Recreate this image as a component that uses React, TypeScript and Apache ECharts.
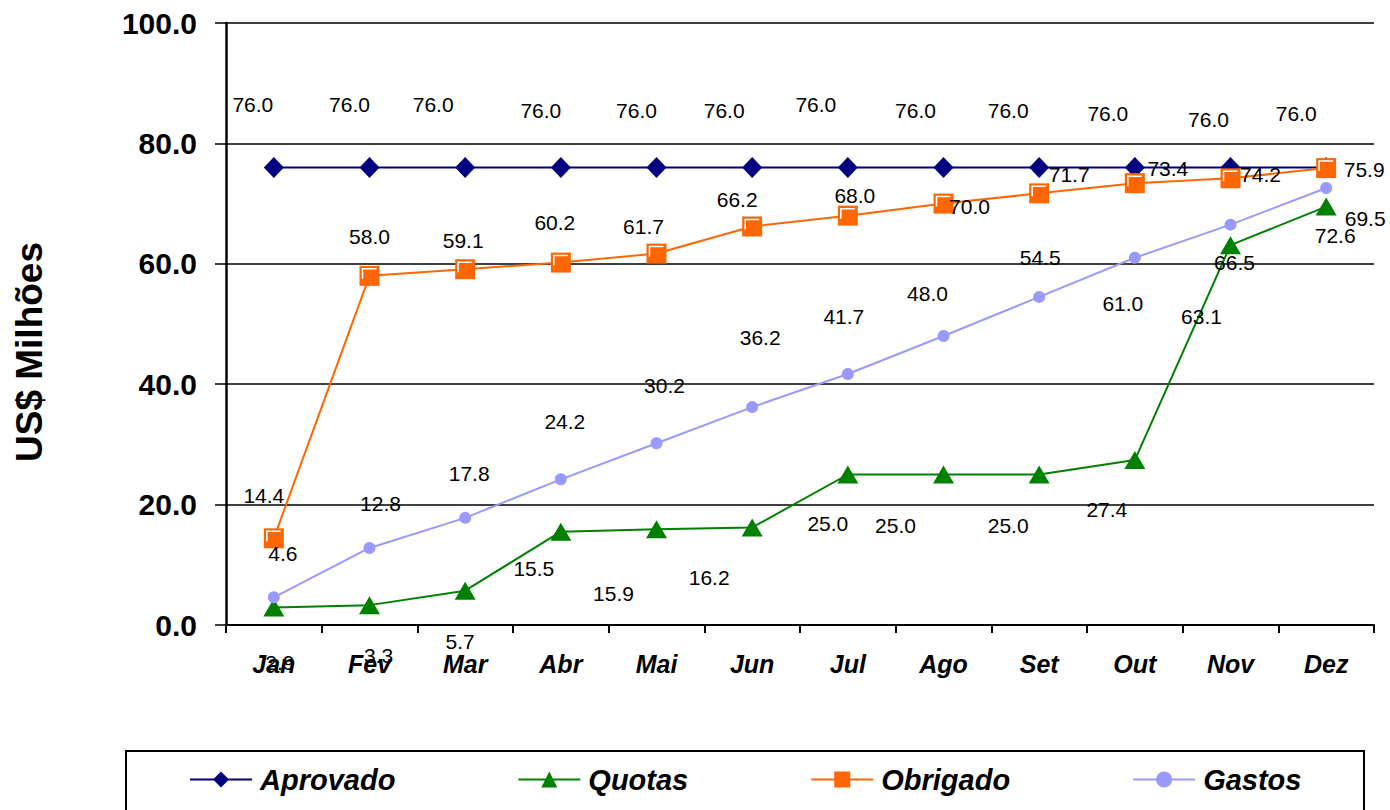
import React, { useEffect, useRef } from "react";
import * as echarts from "echarts";

const months = ["Jan", "Fev", "Mar", "Abr", "Mai", "Jun", "Jul", "Ago", "Set", "Out", "Nov", "Dez"];
const aprovado = [76.0, 76.0, 76.0, 76.0, 76.0, 76.0, 76.0, 76.0, 76.0, 76.0, 76.0, 76.0];
const quotas = [2.9, 3.3, 5.7, 15.5, 15.9, 16.2, 25.0, 25.0, 25.0, 27.4, 63.1, 69.5];
const obrigado = [14.4, 58.0, 59.1, 60.2, 61.7, 66.2, 68.0, 70.0, 71.7, 73.4, 74.2, 75.9];
const gastos = [4.6, 12.8, 17.8, 24.2, 30.2, 36.2, 41.7, 48.0, 54.5, 61.0, 66.5, 72.6];
const yMin = 0;
const yMax = 100;
const yStep = 20;
const yTitle = "US$ Milhões";

// label placement (style), offsets of each data label from its point, in px
const aprovadoLabelOffsets = [
  [-21, -63], [-20, -63], [-32, -63], [-20, -57], [-20, -57], [-28, -57],
  [-32, -63], [-28, -57], [-31, -57], [-27, -54], [-22, -48], [-30, -54],
];
const quotasLabelOffsets = [
  [6, 55], [9, 50], [-5, 51], [-27, 37], [-43, 64], [-43, 50],
  [-20, 49], [-48, 51], [-31, 51], [-28, 49], [-29, 71], [39, 12],
];
const obrigadoLabelOffsets = [
  [-10, -43], [0, -39], [-2, -29], [-6, -40], [-13, -27], [-15, -27],
  [7, -20], [26, 3], [30, -19], [33, -15], [30, -4], [38, 1],
];
const gastosLabelOffsets = [
  [9, -44], [11, -44], [4, -44], [4, -58], [8, -58], [8, -70],
  [-4, -57], [-16, -43], [1, -39], [-12, 46], [4, 38], [9, 48],
];

const FONT = "'Liberation Sans', Arial, Helvetica, sans-serif";

function withLabels(values: number[], offsets: number[][]) {
  return values.map((v, i) => ({ value: v, label: { offset: offsets[i] } }));
}

const labelBase = {
  show: true,
  position: "inside",
  align: "center",
  verticalAlign: "middle",
  color: "#000",
  fontFamily: FONT,
  fontSize: 21,
  formatter: (p: any) => Number(p.value).toFixed(1),
};

export default function App() {
  const ref = useRef<HTMLDivElement>(null);

  useEffect(() => {
    if (!ref.current) return;
    const chart = echarts.init(ref.current, undefined, { renderer: "svg" });
    chart.setOption({
      animation: false,
      backgroundColor: "#fff",
      grid: { left: 226, right: 16, top: 23, bottom: 185, containLabel: false },
      legend: {
        data: ["Aprovado", "Quotas", "Obrigado", "Gastos"],
        left: 189,
        top: 765,
        padding: 0,
        itemWidth: 62,
        itemHeight: 20,
        itemGap: 122,
        textStyle: {
          fontFamily: FONT,
          fontSize: 29,
          fontWeight: "bold",
          fontStyle: "italic",
          color: "#000",
          padding: [0, 0, 0, 3],
        },
      },
      graphic: [
        {
          type: "rect",
          shape: { x: 126, y: 751, width: 1238, height: 80 },
          style: { fill: "none", stroke: "#000", lineWidth: 2 },
          z: -1,
        },
        {
          type: "text",
          x: 29,
          y: 352,
          rotation: Math.PI / 2,
          style: {
            text: yTitle,
            fill: "#000",
            font: `bold 37px ${FONT}`,
            align: "center",
            verticalAlign: "middle",
          },
        },
      ],
      xAxis: {
        type: "category",
        data: months,
        boundaryGap: true,
        axisLine: { show: true, lineStyle: { color: "#000", width: 2 } },
        axisTick: { show: true, inside: false, length: 8, alignWithLabel: false, lineStyle: { color: "#000", width: 2 } },
        axisLabel: {
          margin: 26,
          fontFamily: FONT,
          fontSize: 25,
          fontWeight: "bold",
          fontStyle: "italic",
          color: "#000",
          interval: 0,
        },
        splitLine: { show: false },
      },
      yAxis: {
        type: "value",
        min: yMin,
        max: yMax,
        interval: yStep,
        axisLine: { show: true, lineStyle: { color: "#000", width: 2.5 } },
        axisTick: { show: true, inside: false, length: 11, lineStyle: { color: "#000", width: 1.5 } },
        axisLabel: {
          margin: 29,
          fontFamily: FONT,
          fontSize: 30,
          fontWeight: "bold",
          color: "#000",
          formatter: (v: number) => v.toFixed(1),
        },
        splitLine: { show: true, lineStyle: { color: "#000", width: 1.5 } },
      },
      series: [
        {
          name: "Aprovado",
          type: "line",
          data: withLabels(aprovado, aprovadoLabelOffsets),
          symbol: "diamond",
          symbolSize: [20, 21],
          lineStyle: { color: "#000080", width: 2 },
          itemStyle: { color: "#000080" },
          label: labelBase,
          z: 2,
        },
        {
          name: "Quotas",
          type: "line",
          data: withLabels(quotas, quotasLabelOffsets),
          symbol: "triangle",
          symbolSize: [21, 18],
          lineStyle: { color: "#008000", width: 2 },
          itemStyle: { color: "#008000" },
          label: labelBase,
          z: 3,
        },
        {
          name: "Obrigado",
          type: "line",
          data: withLabels(obrigado, obrigadoLabelOffsets),
          symbol: "rect",
          symbolSize: 20,
          lineStyle: { color: "#FF6600", width: 2 },
          itemStyle: { color: "#FF6600" },
          label: labelBase,
          z: 4,
        },
        {
          name: "Obrigado-highlight",
          type: "line",
          data: obrigado,
          symbol: "path://M0,0M20,20M3,13L3,3L17,3",
          symbolSize: 20,
          lineStyle: { width: 0, opacity: 0 },
          itemStyle: { color: "transparent", borderColor: "#ffffff", borderWidth: 1.5 },
          label: { show: false },
          silent: true,
          z: 5,
        },
        {
          name: "Gastos",
          type: "line",
          data: withLabels(gastos, gastosLabelOffsets),
          symbol: "circle",
          symbolSize: 12,
          lineStyle: { color: "#9999FF", width: 2 },
          itemStyle: { color: "#9999FF" },
          label: labelBase,
          z: 6,
        },
      ],
    });
    return () => chart.dispose();
  }, []);

  return (
    <div
      ref={ref}
      style={{ position: "fixed", left: 0, top: 0, width: 1390, height: 810, background: "#fff" }}
    />
  );
}
